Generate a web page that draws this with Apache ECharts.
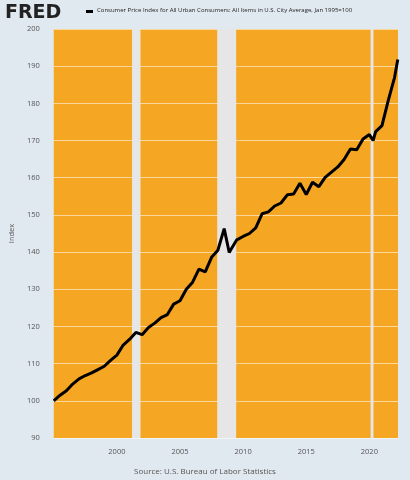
<!DOCTYPE html>
<html><head><meta charset="utf-8">
<script src="https://cdn.jsdelivr.net/npm/echarts@6/dist/echarts.min.js"></script>
<style>html,body{margin:0;padding:0;background:#e1e9f0}#c{width:410px;height:480px}</style>
</head><body><div id="c"></div>
<script>
const years = [1995.0,1995.5,1996.0,1996.5,1997.0,1997.5,1998.0,1998.5,1999.0,1999.5,2000.0,2000.5,2001.0,2001.5,2002.0,2002.5,2003.0,2003.5,2004.0,2004.5,2005.0,2005.5,2006.0,2006.5,2007.0,2007.5,2008.0,2008.5,2008.9,2009.0,2009.5,2010.0,2010.5,2011.0,2011.5,2012.0,2012.5,2013.0,2013.5,2014.0,2014.5,2015.0,2015.5,2016.0,2016.5,2017.0,2017.5,2018.0,2018.5,2019.0,2019.5,2020.0,2020.3,2020.5,2021.0,2021.5,2022.0,2022.25];
const cpi = [100,101.5,102.7,104.5,105.9,106.8,107.5,108.4,109.3,110.9,112.3,115,116.5,118.4,117.8,119.7,120.9,122.4,123.2,126,126.9,130,131.9,135.4,134.7,138.6,140.5,146.3,139.9,140.5,143.3,144.2,145,146.5,150.3,150.8,152.4,153.2,155.4,155.6,158.5,155.5,158.8,157.6,160.1,161.5,162.9,164.9,167.7,167.5,170.4,171.6,170.0,172.4,174.0,180.8,187.0,191.8];
const recessions = [[2001.2,2001.87],[2007.95,2009.45],[2020.1,2020.33]];
const yTicks = [90,100,110,120,130,140,150,160,170,180,190,200];
const title = 'Consumer Price Index for All Urban Consumers: All Items in U.S. City Average, Jan 1995=100';
const ch = echarts.init(document.getElementById('c'));
ch.setOption({
  backgroundColor:'#e1e9f0',
  animation:false,
  graphic:[
    {type:'text',left:5,top:4,style:{text:'FRED',font:'900 19px "DejaVu Sans"',fill:'#222'}},
    {type:'rect',shape:{x:86,y:10,width:7,height:3},style:{fill:'#000'}},
    {type:'text',left:97,top:7,style:{text:title,font:'6px "Open Sans"',fill:'#222'}},
    {type:'text',left:'center',top:468,style:{text:'Source: U.S. Bureau of Labor Statistics',font:'8px "Open Sans"',fill:'#555'}}
  ],
  grid:{left:49,right:12,top:29,bottom:42,show:true,backgroundColor:'#f5a623',borderWidth:0},
  xAxis:{type:'value',min:1995,max:2022.27,interval:5,
    axisLine:{show:false},axisTick:{show:false},splitLine:{show:false},
    axisLabel:{color:'#555',fontSize:7.5,fontFamily:'Open Sans',margin:10,showMaxLabel:false,
      formatter:v=>v===1995?'':String(v)}},
  yAxis:{type:'value',min:yTicks[0],max:yTicks[yTicks.length-1],interval:10,
    name:'Index',nameLocation:'middle',nameGap:30,nameTextStyle:{color:'#555',fontSize:7.5,fontFamily:'Open Sans'},
    axisLine:{show:false},axisTick:{show:false},
    splitLine:{lineStyle:{color:'rgba(255,255,255,0.55)',width:1}},
    axisLabel:{color:'#555',fontSize:7.5,fontFamily:'Open Sans',margin:14}},
  series:[{type:'line',data:years.map((y,i)=>[y,cpi[i]]),showSymbol:false,
    lineStyle:{color:'#000',width:3},z:5,
    markArea:{silent:true,itemStyle:{color:'#e6e6e6'},data:recessions.map(r=>[{xAxis:r[0]},{xAxis:r[1]}])}}]
});
</script></body></html>
